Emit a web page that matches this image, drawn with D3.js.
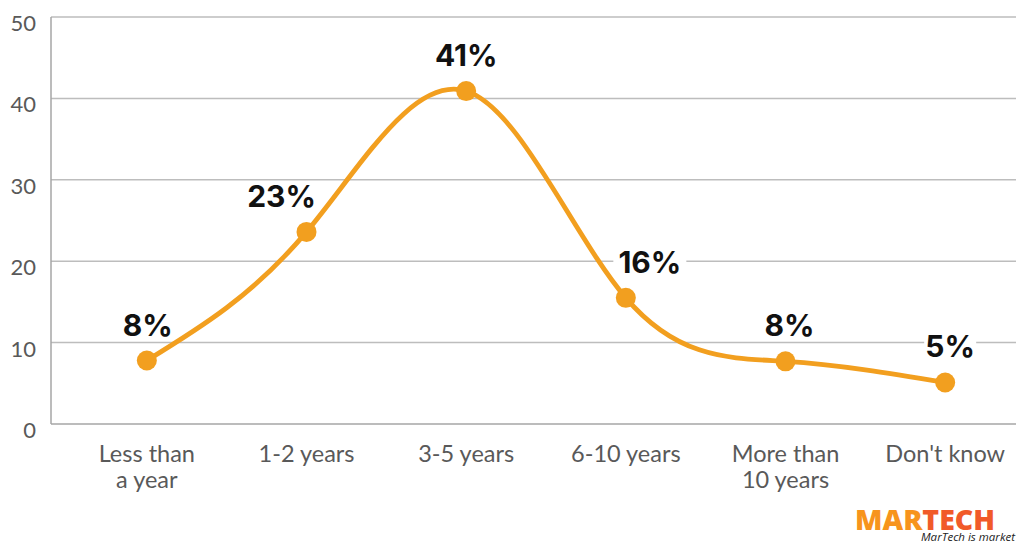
<!DOCTYPE html>
<html>
<head>
<meta charset="utf-8">
<script src="https://cdn.jsdelivr.net/npm/d3@7"></script>
<style>
  body { margin: 0; background: #fff; }
  svg { display: block; }
</style>
</head>
<body>
<script>
// categories, values and labels
var categories = ["Less than\na year", "1-2 years", "3-5 years", "6-10 years", "More than\n10 years", "Don't know"];
var values = [7.8, 23.6, 40.9, 15.5, 7.7, 5.1];
var valueLabels = ["8%", "23%", "41%", "16%", "8%", "5%"];
var yTicks = [0, 10, 20, 30, 40, 50];

var width = 1016, height = 543;
var margin = {top: 17, right: 0, bottom: 119, left: 51};

var svg = d3.select("body").append("svg")
    .attr("width", width)
    .attr("height", height);

var xScale = d3.scaleBand()
    .domain(categories)
    .range([67, 1025]);

var yScale = d3.scaleLinear()
    .domain([0, 50])
    .range([height - margin.bottom, margin.top]);

// gridlines
svg.append("g")
  .selectAll("line")
  .data(yTicks.filter(function (d) { return d > 0; }))
  .enter().append("line")
    .attr("x1", margin.left)
    .attr("x2", width)
    .attr("y1", function (d) { return yScale(d); })
    .attr("y2", function (d) { return yScale(d); })
    .attr("stroke", "#bdbdbd")
    .attr("stroke-width", 1.5);

// axes lines
svg.append("line")
    .attr("x1", margin.left).attr("x2", margin.left)
    .attr("y1", yScale(50)).attr("y2", yScale(0))
    .attr("stroke", "#a6a6a6").attr("stroke-width", 1.5);
svg.append("line")
    .attr("x1", margin.left).attr("x2", width)
    .attr("y1", yScale(0)).attr("y2", yScale(0))
    .attr("stroke", "#a6a6a6").attr("stroke-width", 1.5);

// y tick labels
svg.append("g")
  .selectAll("text")
  .data(yTicks)
  .enter().append("text")
    .attr("x", 36)
    .attr("y", function (d) { return yScale(d) + 14; })
    .attr("text-anchor", "end")
    .style("font-family", "Lato, sans-serif")
    .style("font-size", "22px")
    .style("fill", "#595959")
    .text(function (d) { return d; });

// x category labels
var xl = svg.append("g")
  .selectAll("text")
  .data(categories)
  .enter().append("text")
    .attr("x", function (d) { return xScale(d) + xScale.bandwidth() / 2; })
    .attr("y", 462)
    .attr("text-anchor", "middle")
    .style("font-family", "Lato, sans-serif")
    .style("font-size", "23.5px")
    .style("fill", "#595959");
xl.each(function (d) {
  var t = d3.select(this);
  d.split("\n").forEach(function (s, i) {
    t.append("tspan")
      .attr("x", t.attr("x"))
      .attr("dy", i ? 26 : 0)
      .text(s);
  });
});

var pts = categories.map(function (c, i) {
  return [xScale(c) + xScale.bandwidth() / 2, yScale(values[i])];
});

var line = d3.line().curve(d3.curveNatural);

svg.append("path")
    .attr("d", line(pts))
    .attr("fill", "none")
    .attr("stroke", "#F29F1F")
    .attr("stroke-width", 4.8)
    .attr("stroke-linecap", "round");

svg.append("g")
  .selectAll("circle")
  .data(pts)
  .enter().append("circle")
    .attr("cx", function (d) { return d[0]; })
    .attr("cy", function (d) { return d[1]; })
    .attr("r", 10)
    .attr("fill", "#F29F1F");

// value labels (with white boxes that break the gridlines)
var shiftX = function (i) { return [1, -25, 0, 24, 4, 5][i]; };
var lbl = svg.append("g")
  .selectAll("g")
  .data(pts)
  .enter().append("g")
    .attr("transform", function (d, i) {
      return "translate(" + (d[0] + shiftX(i)) + "," + (d[1] - 25) + ")";
    });
lbl.append("rect")
    .attr("x", function (d, i) { return -valueLabels[i].length * 10.5 - 5; })
    .attr("y", -24)
    .attr("width", function (d, i) { return valueLabels[i].length * 21 + 10; })
    .attr("height", 28)
    .attr("fill", "#fff");
lbl.append("text")
    .attr("text-anchor", "middle")
    .style("font-family", "Inter, sans-serif")
    .style("font-weight", "700")
    .style("font-size", "30px")
    .style("fill", "#111")
    .text(function (d, i) { return valueLabels[i]; });

// logo
var logo = svg.append("text")
    .attr("x", 855)
    .attr("y", 530)
    .attr("textLength", 140)
    .attr("lengthAdjust", "spacingAndGlyphs")
    .style("font-family", "'Open Sans', sans-serif")
    .style("font-weight", "800")
    .style("font-size", "28px");
logo.append("tspan").attr("fill", "#F7941D").text("MAR");
logo.append("tspan").attr("fill", "#F15A29").text("TECH");
svg.append("text")
    .attr("x", 921)
    .attr("y", 541)
    .style("font-family", "'Open Sans', sans-serif")
    .style("font-style", "italic")
    .style("font-size", "11.5px")
    .style("fill", "#222")
    .text("MarTech is market");
</script>
</body>
</html>
